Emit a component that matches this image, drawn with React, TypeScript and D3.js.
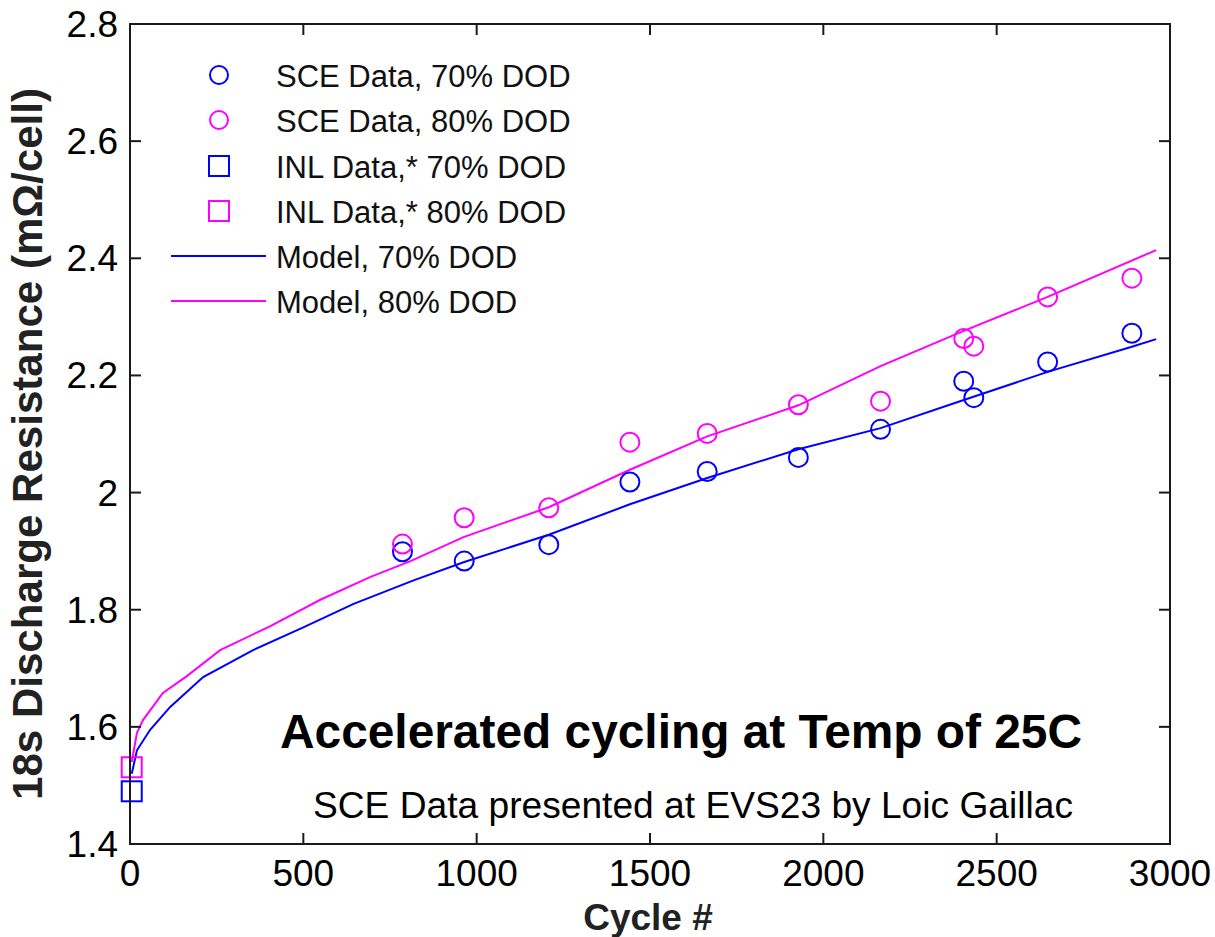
import React from "react";
import * as d3 from "d3";

const sce70Cycles = [786, 964, 1208, 1442, 1665, 1928, 2165, 2405, 2434, 2647, 2890];
const sce70Values = [1.899, 1.883, 1.911, 2.018, 2.036, 2.060, 2.108, 2.190, 2.162, 2.223, 2.272];
const sce80Cycles = [786, 964, 1208, 1442, 1665, 1928, 2165, 2405, 2434, 2647, 2890];
const sce80Values = [1.912, 1.957, 1.974, 2.086, 2.101, 2.150, 2.156, 2.263, 2.250, 2.334, 2.366];
const inl70 = [[5, 1.49]];
const inl80 = [[5, 1.531]];
const model70Cycles = [5, 20, 58, 116, 211, 355, 500, 645, 818, 962, 1208, 1442, 1665, 1928, 2165, 2405, 2647, 2890, 2960];
const model70Values = [1.52, 1.56, 1.595, 1.634, 1.685, 1.731, 1.770, 1.810, 1.850, 1.881, 1.928, 1.980, 2.025, 2.074, 2.110, 2.158, 2.206, 2.249, 2.262];
const model80Cycles = [5, 20, 38, 95, 165, 260, 405, 549, 694, 809, 962, 1208, 1442, 1665, 1928, 2165, 2405, 2647, 2960];
const model80Values = [1.54, 1.59, 1.612, 1.658, 1.687, 1.731, 1.772, 1.817, 1.856, 1.883, 1.924, 1.975, 2.039, 2.096, 2.149, 2.216, 2.276, 2.334, 2.414];
const xTicks = [0, 500, 1000, 1500, 2000, 2500, 3000];
const yTicks = [1.4, 1.6, 1.8, 2, 2.2, 2.4, 2.6, 2.8];
const legendLabels = [
  "SCE Data, 70% DOD",
  "SCE Data, 80% DOD",
  "INL Data,* 70% DOD",
  "INL Data,* 80% DOD",
  "Model, 70% DOD",
  "Model, 80% DOD",
];

const BLUE = "#0000ff";
const MAGENTA = "#ff00ff";
const AXIS = "#1a1a1a";

export default function App() {
  const W = 1215, H = 937;
  const L = 130, R = 1170, T = 24, B = 844;
  const x = d3.scaleLinear().domain([0, 3000]).range([L, R]);
  const y = d3.scaleLinear().domain([1.4, 2.8]).range([B, T]);
  const line = d3.line<[number, number]>().x(d => x(d[0])).y(d => y(d[1]));
  const m70 = model70Cycles.map((c, i) => [c, model70Values[i]] as [number, number]);
  const m80 = model80Cycles.map((c, i) => [c, model80Values[i]] as [number, number]);
  const font = "Liberation Sans, Arial, sans-serif";
  const legendY = [75, 120, 166, 211, 256, 301];
  const tk = 11;

  return (
    <div style={{ position: "absolute", left: 0, top: 0 }}>
      <svg width={W} height={H} style={{ display: "block", background: "#fff" }}>
        <rect x={0} y={0} width={W} height={H} fill="#fff" />
        {/* model lines */}
        <path d={line(m70) || ""} fill="none" stroke={BLUE} strokeWidth={2} />
        <path d={line(m80) || ""} fill="none" stroke={MAGENTA} strokeWidth={2} />
        {/* SCE circles */}
        {sce70Cycles.map((c, i) => (
          <circle key={"b" + i} cx={x(c)} cy={y(sce70Values[i])} r={9.5} fill="none" stroke={BLUE} strokeWidth={2} />
        ))}
        {sce80Cycles.map((c, i) => (
          <circle key={"m" + i} cx={x(c)} cy={y(sce80Values[i])} r={9.5} fill="none" stroke={MAGENTA} strokeWidth={2} />
        ))}
        {inl70.map((d, i) => (
          <rect key={"s7" + i} x={x(d[0]) - 10} y={y(d[1]) - 10} width={20} height={20} fill="none" stroke={BLUE} strokeWidth={2} />
        ))}
        {inl80.map((d, i) => (
          <rect key={"s8" + i} x={x(d[0]) - 10} y={y(d[1]) - 10} width={20} height={20} fill="none" stroke={MAGENTA} strokeWidth={2} />
        ))}
        {/* axes box */}
        <rect x={L} y={T} width={R - L} height={B - T} fill="none" stroke={AXIS} strokeWidth={2} />
        {xTicks.map(t => (
          <g key={"xt" + t}>
            <line x1={x(t)} x2={x(t)} y1={B} y2={B - tk} stroke={AXIS} strokeWidth={2} />
            <line x1={x(t)} x2={x(t)} y1={T} y2={T + tk} stroke={AXIS} strokeWidth={2} />
            <text x={x(t)} y={886} textAnchor="middle" fontFamily={font} fontSize={37} fill="#000">{t}</text>
          </g>
        ))}
        {yTicks.map(t => (
          <g key={"yt" + t}>
            <line x1={L} x2={L + tk} y1={y(t)} y2={y(t)} stroke={AXIS} strokeWidth={2} />
            <line x1={R} x2={R - tk} y1={y(t)} y2={y(t)} stroke={AXIS} strokeWidth={2} />
            <text x={118} y={y(t) + 13} textAnchor="end" fontFamily={font} fontSize={37} fill="#000">{String(t)}</text>
          </g>
        ))}
        {/* axis labels */}
        <text x={648} y={930} textAnchor="middle" fontFamily={font} fontSize={37} fontWeight="bold" fill="#222">Cycle #</text>
        <text transform={`translate(42,444) rotate(-90)`} textAnchor="middle" fontFamily={font} fontSize={42} fontWeight="bold" fill="#222" textLength={712} lengthAdjust="spacingAndGlyphs">18s Discharge Resistance (mΩ/cell)</text>
        {/* legend */}
        <circle cx={219} cy={legendY[0]} r={9} fill="none" stroke={BLUE} strokeWidth={2} />
        <circle cx={219} cy={legendY[1]} r={9} fill="none" stroke={MAGENTA} strokeWidth={2} />
        <rect x={209} y={legendY[2] - 10} width={20} height={20} fill="none" stroke={BLUE} strokeWidth={2} />
        <rect x={209} y={legendY[3] - 10} width={20} height={20} fill="none" stroke={MAGENTA} strokeWidth={2} />
        <line x1={171} x2={266} y1={legendY[4]} y2={legendY[4]} stroke={BLUE} strokeWidth={2} />
        <line x1={171} x2={266} y1={legendY[5]} y2={legendY[5]} stroke={MAGENTA} strokeWidth={2} />
        {legendLabels.map((s, i) => (
          <text key={"lg" + i} x={276} y={legendY[i] + 12} fontFamily={font} fontSize={31} fill="#111">{s}</text>
        ))}
        {/* annotations */}
        <text x={280} y={748} fontFamily={font} fontSize={48} fontWeight="bold" fill="#000" textLength={802} lengthAdjust="spacingAndGlyphs">Accelerated cycling at Temp of 25C</text>
        <text x={313} y={818} fontFamily={font} fontSize={37} fill="#000" textLength={760} lengthAdjust="spacingAndGlyphs">SCE Data presented at EVS23 by Loic Gaillac</text>
      </svg>
    </div>
  );
}
